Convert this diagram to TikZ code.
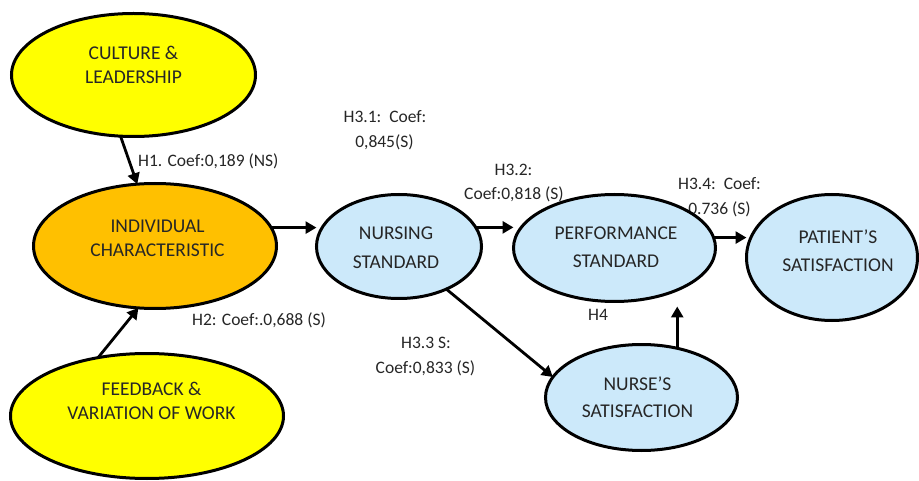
\documentclass[tikz,border=0pt]{standalone}
\usepackage{fontspec}
\setmainfont{Carlito}
\usetikzlibrary{shapes.geometric,arrows.meta}
\definecolor{yel}{RGB}{255,255,0}
\definecolor{org}{RGB}{255,192,0}
\definecolor{lblue}{RGB}{204,233,250}
\definecolor{txt}{RGB}{38,38,38}
\begin{document}
\begin{tikzpicture}[x=1pt,y=-1pt,
  el/.style={ellipse, draw=black, line width=3pt, inner sep=0pt, outer sep=0pt},
  eltext/.style={font=\fontsize{19.5}{#1}\selectfont, text=txt, align=center, inner sep=0pt},
  lab/.style={font=\fontsize{17.5}{21}\selectfont, text=txt, inner sep=0pt, anchor=base},
  arr/.style={-{Triangle[length=11pt,width=12pt]}, line width=2.8pt}
]
\useasboundingbox (0,0) rectangle (919,481);

% coefficient labels
\node[lab, anchor=base west] (l1) at (138,167) {H1. Coef:0,189 (NS)};
\node[lab] (l31a) at (385,122.6) {H3.1:\ \ Coef:};
\node[lab] (l31b) at (384.5,147.6) {0,845(S)};
\node[lab] (l32a) at (513.5,175.6) {H3.2:};
\node[lab] (l32b) at (514,199.6) {Coef:0,818 (S)};
\node[lab] (l34a) at (719.5,189.6) {H3.4:\ \ Coef:};
\node[lab] (l34b) at (719.5,214.6) {0.736 (S)};
\node[lab, anchor=base west] (l2) at (192,325.6) {H2: Coef:.0,688 (S)};
\node[lab] (l4) at (598,320.6) {H4};
\node[lab] (l33a) at (426,348.6) {H3.3 S:};
\node[lab] (l33b) at (425.5,373.6) {Coef:0,833 (S)};

% ellipses
\node[el, fill=yel, minimum width=244pt, minimum height=123pt,
  label={[eltext=24, yshift=10pt]center:CULTURE \&\\LEADERSHIP}] (cul) at (133.5,75) {};
\node[el, fill=org, minimum width=243pt, minimum height=125pt,
  label={[eltext=23.5, xshift=2.5pt, yshift=7.5pt]center:INDIVIDUAL\\CHARACTERISTIC}] (ind) at (155,246) {};
\node[el, fill=yel, minimum width=273pt, minimum height=125pt,
  label={[eltext=24, xshift=4.5pt, yshift=15pt]center:FEEDBACK \&\\VARIATION OF WORK}] (fb) at (147,416) {};
\node[el, fill=lblue, minimum width=165pt, minimum height=104pt,
  label={[eltext=29, xshift=-3pt, yshift=-1pt]center:NURSING\\STANDARD}] (nurs) at (399,246.5) {};
\node[el, fill=lblue, minimum width=202pt, minimum height=107pt,
  label={[eltext=27.5, xshift=1.5pt, yshift=1pt]center:PERFORMANCE\\STANDARD}] (perf) at (614.5,248) {};
\node[el, fill=lblue, minimum width=171pt, minimum height=126pt,
  label={[eltext=28, xshift=6pt, yshift=6.5pt]center:PATIENT’S\\SATISFACTION}] (pat) at (832,257.5) {};
\node[el, fill=lblue, minimum width=192pt, minimum height=106pt,
  label={[eltext=27, xshift=-4pt]center:NURSE’S\\SATISFACTION}] (nse) at (641.5,397.5) {};

% connectors
\draw[arr] (cul.258) -- (ind.106);
\draw[arr] (fb.130) -- (ind.255);
\draw[arr] (ind.9) -- (ind.9 -| nurs.west);
\draw[arr] (nurs.14) -- (nurs.14 -| perf.west);
\draw[arr] (perf.6) -- (perf.6 -| pat.west);
\draw[arr] (nurs.318) -- (nse.167);
\draw[arr, shorten >=5pt] (nse.54) -- (nse.54 |- perf.south);
\end{tikzpicture}
\end{document}
